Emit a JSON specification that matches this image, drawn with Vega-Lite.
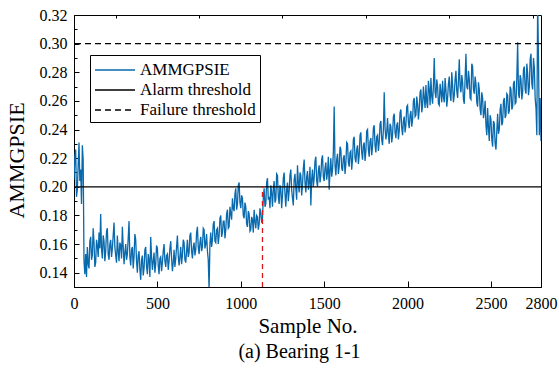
{
  "$schema": "https://vega.github.io/schema/vega-lite/v6.json",
  "width": 467,
  "height": 272,
  "autosize": "none",
  "padding": {"left": 74, "top": 15, "right": 18, "bottom": 86},
  "background": "white",
  "config": {
    "font": "Liberation Serif",
    "view": {"stroke": "black", "strokeWidth": 1},
    "axis": {"grid": false, "domainColor": "black", "tickColor": "black", "labelColor": "black", "titleColor": "black", "labelFont": "Liberation Serif", "titleFont": "Liberation Serif", "titleFontWeight": "normal"},
    "legend": {"title": null, "orient": "none", "legendX": 16, "legendY": 40, "symbolType": "M-1,0H3", "symbolSize": 400, "symbolStrokeWidth": 1.5, "labelFont": "Liberation Serif", "labelFontSize": 17, "labelColor": "black", "labelOffset": 24, "padding": 4, "rowPadding": 1, "strokeColor": "black", "fillColor": "white"}
  },
  "title": {"text": "(a) Bearing 1-1", "orient": "bottom", "font": "Liberation Serif", "fontSize": 20, "fontWeight": "normal", "color": "black", "dx": -8, "offset": 6},
  "resolve": {"axis": {"x": "independent", "y": "independent"}},
  "layer": [
    {
      "data": {"values": [
        {"s":0,"v":0.205},{"s":5,"v":0.221},{"s":10,"v":0.226},{"s":15,"v":0.193},{"s":20,"v":0.198},{"s":25,"v":0.215},{"s":30,"v":0.231},{"s":35,"v":0.204},{"s":40,"v":0.212},{"s":45,"v":0.188},{"s":50,"v":0.229},{"s":55,"v":0.219},
        {"s":60,"v":0.148},{"s":65,"v":0.139},{"s":70,"v":0.153},{"s":75,"v":0.137},{"s":80,"v":0.158},{"s":85,"v":0.146},{"s":90,"v":0.143},{"s":95,"v":0.162},{"s":100,"v":0.165},{"s":105,"v":0.149},
        {"s":110,"v":0.152},{"s":115,"v":0.171},{"s":120,"v":0.161},{"s":125,"v":0.144},{"s":130,"v":0.147},{"s":135,"v":0.163},{"s":140,"v":0.159},{"s":145,"v":0.151},{"s":150,"v":0.168},{"s":155,"v":0.157},
        {"s":160,"v":0.181},{"s":165,"v":0.156},{"s":170,"v":0.150},{"s":175,"v":0.166},{"s":180,"v":0.162},{"s":185,"v":0.148},{"s":190,"v":0.155},{"s":195,"v":0.169},{"s":200,"v":0.171},{"s":205,"v":0.153},
        {"s":210,"v":0.149},{"s":215,"v":0.160},{"s":220,"v":0.163},{"s":225,"v":0.151},{"s":230,"v":0.157},{"s":235,"v":0.166},{"s":240,"v":0.175},{"s":245,"v":0.158},{"s":250,"v":0.152},{"s":255,"v":0.147},
        {"s":260,"v":0.166},{"s":265,"v":0.155},{"s":270,"v":0.148},{"s":275,"v":0.161},{"s":280,"v":0.159},{"s":285,"v":0.150},{"s":290,"v":0.172},{"s":295,"v":0.158},{"s":300,"v":0.146},{"s":305,"v":0.154},
        {"s":310,"v":0.160},{"s":315,"v":0.149},{"s":320,"v":0.153},{"s":325,"v":0.164},{"s":330,"v":0.176},{"s":335,"v":0.151},{"s":340,"v":0.145},{"s":345,"v":0.156},{"s":350,"v":0.158},{"s":355,"v":0.143},
        {"s":360,"v":0.151},{"s":365,"v":0.167},{"s":370,"v":0.163},{"s":375,"v":0.148},{"s":380,"v":0.140},{"s":385,"v":0.152},{"s":390,"v":0.155},{"s":395,"v":0.142},{"s":400,"v":0.135},{"s":405,"v":0.149},
        {"s":410,"v":0.152},{"s":415,"v":0.138},{"s":420,"v":0.143},{"s":425,"v":0.156},{"s":430,"v":0.158},{"s":435,"v":0.144},{"s":440,"v":0.139},{"s":445,"v":0.153},{"s":450,"v":0.149},{"s":455,"v":0.137},
        {"s":460,"v":0.165},{"s":465,"v":0.151},{"s":470,"v":0.142},{"s":475,"v":0.148},{"s":480,"v":0.154},{"s":485,"v":0.140},{"s":490,"v":0.146},{"s":495,"v":0.159},{"s":500,"v":0.157},{"s":505,"v":0.145},
        {"s":510,"v":0.139},{"s":515,"v":0.150},{"s":520,"v":0.151},{"s":525,"v":0.141},{"s":530,"v":0.147},{"s":535,"v":0.155},{"s":540,"v":0.160},{"s":545,"v":0.148},{"s":550,"v":0.144},{"s":555,"v":0.152},
        {"s":560,"v":0.153},{"s":565,"v":0.142},{"s":570,"v":0.148},{"s":575,"v":0.157},{"s":580,"v":0.162},{"s":585,"v":0.150},{"s":590,"v":0.141},{"s":595,"v":0.147},{"s":600,"v":0.156},{"s":605,"v":0.144},
        {"s":610,"v":0.150},{"s":615,"v":0.158},{"s":620,"v":0.166},{"s":625,"v":0.152},{"s":630,"v":0.145},{"s":635,"v":0.151},{"s":640,"v":0.158},{"s":645,"v":0.146},{"s":650,"v":0.152},{"s":655,"v":0.163},
        {"s":660,"v":0.161},{"s":665,"v":0.149},{"s":670,"v":0.147},{"s":675,"v":0.155},{"s":680,"v":0.163},{"s":685,"v":0.151},{"s":690,"v":0.154},{"s":695,"v":0.166},{"s":700,"v":0.168},{"s":705,"v":0.155},
        {"s":710,"v":0.150},{"s":715,"v":0.158},{"s":720,"v":0.161},{"s":725,"v":0.152},{"s":730,"v":0.156},{"s":735,"v":0.168},{"s":740,"v":0.172},{"s":745,"v":0.158},{"s":750,"v":0.153},{"s":755,"v":0.161},
        {"s":760,"v":0.165},{"s":765,"v":0.155},{"s":770,"v":0.158},{"s":775,"v":0.171},{"s":780,"v":0.170},{"s":785,"v":0.157},{"s":790,"v":0.160},{"s":795,"v":0.167},{"s":800,"v":0.155},{"s":805,"v":0.149},
        {"s":810,"v":0.128},{"s":815,"v":0.160},{"s":820,"v":0.168},{"s":825,"v":0.158},{"s":830,"v":0.163},{"s":835,"v":0.174},{"s":840,"v":0.176},{"s":845,"v":0.162},{"s":850,"v":0.161},{"s":855,"v":0.170},
        {"s":860,"v":0.171},{"s":865,"v":0.160},{"s":870,"v":0.166},{"s":875,"v":0.178},{"s":880,"v":0.180},{"s":885,"v":0.165},{"s":890,"v":0.168},{"s":895,"v":0.176},{"s":900,"v":0.176},{"s":905,"v":0.164},
        {"s":910,"v":0.170},{"s":915,"v":0.181},{"s":920,"v":0.184},{"s":925,"v":0.171},{"s":930,"v":0.172},{"s":935,"v":0.186},{"s":940,"v":0.181},{"s":945,"v":0.177},{"s":950,"v":0.192},{"s":955,"v":0.185},
        {"s":960,"v":0.183},{"s":965,"v":0.195},{"s":970,"v":0.199},{"s":975,"v":0.184},{"s":980,"v":0.188},{"s":985,"v":0.201},{"s":990,"v":0.203},{"s":995,"v":0.189},{"s":1000,"v":0.185},{"s":1005,"v":0.194},
        {"s":1010,"v":0.192},{"s":1015,"v":0.180},{"s":1020,"v":0.178},{"s":1025,"v":0.189},{"s":1030,"v":0.186},{"s":1035,"v":0.174},{"s":1040,"v":0.172},{"s":1045,"v":0.183},{"s":1050,"v":0.181},{"s":1055,"v":0.169},
        {"s":1060,"v":0.170},{"s":1065,"v":0.179},{"s":1070,"v":0.177},{"s":1075,"v":0.168},{"s":1080,"v":0.184},{"s":1085,"v":0.176},{"s":1090,"v":0.171},{"s":1095,"v":0.180},{"s":1100,"v":0.179},{"s":1105,"v":0.170},
        {"s":1110,"v":0.174},{"s":1115,"v":0.185},{"s":1120,"v":0.182},{"s":1125,"v":0.175},{"s":1130,"v":0.178},{"s":1135,"v":0.192},{"s":1140,"v":0.199},{"s":1145,"v":0.186},{"s":1150,"v":0.188},{"s":1155,"v":0.203},
        {"s":1160,"v":0.206},{"s":1165,"v":0.191},{"s":1170,"v":0.193},{"s":1175,"v":0.185},{"s":1180,"v":0.201},{"s":1185,"v":0.196},{"s":1190,"v":0.186},{"s":1195,"v":0.199},{"s":1200,"v":0.204},{"s":1205,"v":0.189},
        {"s":1210,"v":0.191},{"s":1215,"v":0.209},{"s":1220,"v":0.208},{"s":1225,"v":0.193},{"s":1230,"v":0.188},{"s":1235,"v":0.201},{"s":1240,"v":0.199},{"s":1245,"v":0.185},{"s":1250,"v":0.194},{"s":1255,"v":0.206},
        {"s":1260,"v":0.210},{"s":1265,"v":0.195},{"s":1270,"v":0.186},{"s":1275,"v":0.198},{"s":1280,"v":0.203},{"s":1285,"v":0.190},{"s":1290,"v":0.197},{"s":1295,"v":0.208},{"s":1300,"v":0.212},{"s":1305,"v":0.198},
        {"s":1310,"v":0.192},{"s":1315,"v":0.187},{"s":1320,"v":0.205},{"s":1325,"v":0.209},{"s":1330,"v":0.199},{"s":1335,"v":0.191},{"s":1340,"v":0.215},{"s":1345,"v":0.203},{"s":1350,"v":0.196},{"s":1355,"v":0.210},
        {"s":1360,"v":0.208},{"s":1365,"v":0.194},{"s":1370,"v":0.201},{"s":1375,"v":0.213},{"s":1380,"v":0.219},{"s":1385,"v":0.203},{"s":1390,"v":0.196},{"s":1395,"v":0.207},{"s":1400,"v":0.211},{"s":1405,"v":0.198},
        {"s":1410,"v":0.203},{"s":1415,"v":0.214},{"s":1420,"v":0.187},{"s":1425,"v":0.205},{"s":1430,"v":0.212},{"s":1435,"v":0.200},{"s":1440,"v":0.206},{"s":1445,"v":0.218},{"s":1450,"v":0.221},{"s":1455,"v":0.204},
        {"s":1460,"v":0.200},{"s":1465,"v":0.211},{"s":1470,"v":0.215},{"s":1475,"v":0.203},{"s":1480,"v":0.208},{"s":1485,"v":0.219},{"s":1490,"v":0.222},{"s":1495,"v":0.207},{"s":1500,"v":0.204},{"s":1505,"v":0.213},
        {"s":1510,"v":0.217},{"s":1515,"v":0.205},{"s":1520,"v":0.210},{"s":1525,"v":0.221},{"s":1530,"v":0.198},{"s":1535,"v":0.211},{"s":1540,"v":0.220},{"s":1545,"v":0.207},{"s":1550,"v":0.212},{"s":1555,"v":0.224},
        {"s":1560,"v":0.256},{"s":1565,"v":0.215},{"s":1570,"v":0.208},{"s":1575,"v":0.219},{"s":1580,"v":0.223},{"s":1585,"v":0.209},{"s":1590,"v":0.214},{"s":1595,"v":0.228},{"s":1600,"v":0.226},{"s":1605,"v":0.213},
        {"s":1610,"v":0.211},{"s":1615,"v":0.220},{"s":1620,"v":0.222},{"s":1625,"v":0.209},{"s":1630,"v":0.216},{"s":1635,"v":0.231},{"s":1640,"v":0.230},{"s":1645,"v":0.217},{"s":1650,"v":0.214},{"s":1655,"v":0.224},
        {"s":1660,"v":0.225},{"s":1665,"v":0.212},{"s":1670,"v":0.219},{"s":1675,"v":0.233},{"s":1680,"v":0.235},{"s":1685,"v":0.220},{"s":1690,"v":0.217},{"s":1695,"v":0.226},{"s":1700,"v":0.229},{"s":1705,"v":0.216},
        {"s":1710,"v":0.222},{"s":1715,"v":0.236},{"s":1720,"v":0.238},{"s":1725,"v":0.224},{"s":1730,"v":0.219},{"s":1735,"v":0.229},{"s":1740,"v":0.231},{"s":1745,"v":0.218},{"s":1750,"v":0.225},{"s":1755,"v":0.239},
        {"s":1760,"v":0.240},{"s":1765,"v":0.226},{"s":1770,"v":0.221},{"s":1775,"v":0.232},{"s":1780,"v":0.234},{"s":1785,"v":0.222},{"s":1790,"v":0.228},{"s":1795,"v":0.241},{"s":1800,"v":0.243},{"s":1805,"v":0.229},
        {"s":1810,"v":0.224},{"s":1815,"v":0.235},{"s":1820,"v":0.236},{"s":1825,"v":0.225},{"s":1830,"v":0.231},{"s":1835,"v":0.244},{"s":1840,"v":0.246},{"s":1845,"v":0.233},{"s":1850,"v":0.229},{"s":1855,"v":0.240},
        {"s":1860,"v":0.266},{"s":1865,"v":0.241},{"s":1870,"v":0.233},{"s":1875,"v":0.238},{"s":1880,"v":0.248},{"s":1885,"v":0.236},{"s":1890,"v":0.230},{"s":1895,"v":0.244},{"s":1900,"v":0.242},{"s":1905,"v":0.231},
        {"s":1910,"v":0.236},{"s":1915,"v":0.249},{"s":1920,"v":0.251},{"s":1925,"v":0.238},{"s":1930,"v":0.234},{"s":1935,"v":0.243},{"s":1940,"v":0.245},{"s":1945,"v":0.233},{"s":1950,"v":0.239},{"s":1955,"v":0.252},
        {"s":1960,"v":0.254},{"s":1965,"v":0.241},{"s":1970,"v":0.236},{"s":1975,"v":0.246},{"s":1980,"v":0.249},{"s":1985,"v":0.238},{"s":1990,"v":0.243},{"s":1995,"v":0.256},{"s":2000,"v":0.257},{"s":2005,"v":0.245},
        {"s":2010,"v":0.241},{"s":2015,"v":0.250},{"s":2020,"v":0.253},{"s":2025,"v":0.242},{"s":2030,"v":0.247},{"s":2035,"v":0.260},{"s":2040,"v":0.262},{"s":2045,"v":0.249},{"s":2050,"v":0.250},{"s":2055,"v":0.263},
        {"s":2060,"v":0.258},{"s":2065,"v":0.247},{"s":2070,"v":0.254},{"s":2075,"v":0.266},{"s":2080,"v":0.268},{"s":2085,"v":0.252},{"s":2090,"v":0.257},{"s":2095,"v":0.270},{"s":2100,"v":0.262},{"s":2105,"v":0.255},
        {"s":2110,"v":0.271},{"s":2115,"v":0.259},{"s":2120,"v":0.255},{"s":2125,"v":0.274},{"s":2130,"v":0.268},{"s":2135,"v":0.257},{"s":2140,"v":0.276},{"s":2145,"v":0.263},{"s":2150,"v":0.258},{"s":2155,"v":0.271},
        {"s":2160,"v":0.290},{"s":2165,"v":0.266},{"s":2170,"v":0.262},{"s":2175,"v":0.275},{"s":2180,"v":0.270},{"s":2185,"v":0.258},{"s":2190,"v":0.257},{"s":2195,"v":0.272},{"s":2200,"v":0.266},{"s":2205,"v":0.259},
        {"s":2210,"v":0.274},{"s":2215,"v":0.263},{"s":2220,"v":0.259},{"s":2225,"v":0.276},{"s":2230,"v":0.268},{"s":2235,"v":0.256},{"s":2240,"v":0.262},{"s":2245,"v":0.272},{"s":2250,"v":0.277},{"s":2255,"v":0.264},
        {"s":2260,"v":0.260},{"s":2265,"v":0.280},{"s":2270,"v":0.271},{"s":2275,"v":0.259},{"s":2280,"v":0.264},{"s":2285,"v":0.275},{"s":2290,"v":0.281},{"s":2295,"v":0.267},{"s":2300,"v":0.262},{"s":2305,"v":0.274},
        {"s":2310,"v":0.289},{"s":2315,"v":0.270},{"s":2320,"v":0.266},{"s":2325,"v":0.278},{"s":2330,"v":0.273},{"s":2335,"v":0.261},{"s":2340,"v":0.258},{"s":2345,"v":0.276},{"s":2350,"v":0.293},{"s":2355,"v":0.270},
        {"s":2360,"v":0.268},{"s":2365,"v":0.281},{"s":2370,"v":0.275},{"s":2375,"v":0.262},{"s":2380,"v":0.261},{"s":2385,"v":0.286},{"s":2390,"v":0.284},{"s":2395,"v":0.268},{"s":2400,"v":0.265},{"s":2405,"v":0.277},
        {"s":2410,"v":0.272},{"s":2415,"v":0.259},{"s":2420,"v":0.256},{"s":2425,"v":0.273},{"s":2430,"v":0.268},{"s":2435,"v":0.254},{"s":2440,"v":0.250},{"s":2445,"v":0.266},{"s":2450,"v":0.262},{"s":2455,"v":0.248},
        {"s":2460,"v":0.252},{"s":2465,"v":0.260},{"s":2470,"v":0.243},{"s":2475,"v":0.236},{"s":2480,"v":0.255},{"s":2485,"v":0.241},{"s":2490,"v":0.232},{"s":2495,"v":0.250},{"s":2500,"v":0.247},{"s":2505,"v":0.233},
        {"s":2510,"v":0.228},{"s":2515,"v":0.246},{"s":2520,"v":0.244},{"s":2525,"v":0.230},{"s":2530,"v":0.226},{"s":2535,"v":0.239},{"s":2540,"v":0.251},{"s":2545,"v":0.237},{"s":2550,"v":0.240},{"s":2555,"v":0.254},
        {"s":2560,"v":0.258},{"s":2565,"v":0.243},{"s":2570,"v":0.245},{"s":2575,"v":0.260},{"s":2580,"v":0.262},{"s":2585,"v":0.248},{"s":2590,"v":0.250},{"s":2595,"v":0.265},{"s":2600,"v":0.264},{"s":2605,"v":0.251},
        {"s":2610,"v":0.253},{"s":2615,"v":0.270},{"s":2620,"v":0.268},{"s":2625,"v":0.254},{"s":2630,"v":0.256},{"s":2635,"v":0.272},{"s":2640,"v":0.274},{"s":2645,"v":0.258},{"s":2650,"v":0.259},{"s":2655,"v":0.276},
        {"s":2660,"v":0.301},{"s":2665,"v":0.265},{"s":2670,"v":0.262},{"s":2675,"v":0.278},{"s":2680,"v":0.275},{"s":2685,"v":0.261},{"s":2690,"v":0.266},{"s":2695,"v":0.282},{"s":2700,"v":0.284},{"s":2705,"v":0.268},
        {"s":2710,"v":0.265},{"s":2715,"v":0.286},{"s":2720,"v":0.279},{"s":2725,"v":0.264},{"s":2730,"v":0.270},{"s":2735,"v":0.289},{"s":2740,"v":0.293},{"s":2745,"v":0.272},{"s":2750,"v":0.268},{"s":2755,"v":0.290},
        {"s":2760,"v":0.283},{"s":2765,"v":0.262},{"s":2770,"v":0.255},{"s":2775,"v":0.236},{"s":2780,"v":0.330},{"s":2785,"v":0.290},{"s":2790,"v":0.236},{"s":2795,"v":0.262},{"s":2800,"v":0.232}
      ]},
      "mark": {"type": "line", "strokeWidth": 1.3, "clip": true},
      "encoding": {
        "x": {"field": "s", "type": "quantitative",
          "scale": {"domain": [0, 2800], "nice": false, "zero": false},
          "axis": {"values": [0, 500, 1000, 1500, 2000, 2500, 2800], "format": "d", "tickSize": -6, "labelPadding": 14, "labelFontSize": 16, "labelOverlap": false, "labelFlush": false, "title": "Sample No.", "titleFontSize": 21, "titlePadding": 4}},
        "y": {"field": "v", "type": "quantitative",
          "scale": {"domain": [0.13, 0.32], "nice": false, "zero": false},
          "axis": {"values": [0.14, 0.16, 0.18, 0.2, 0.22, 0.24, 0.26, 0.28, 0.3, 0.32], "format": ".2f", "tickSize": -5, "labelPadding": 12, "labelFontSize": 16, "title": "AMMGPSIE", "titleFontSize": 22, "titleX": -46, "titleY": 145}},
        "color": {"datum": "AMMGPSIE", "type": "nominal",
          "scale": {"domain": ["AMMGPSIE", "Alarm threshold", "Failure threshold"], "range": ["#0869ad", "black", "black"]}},
        "strokeDash": {"datum": "AMMGPSIE", "type": "nominal",
          "scale": {"domain": ["AMMGPSIE", "Alarm threshold", "Failure threshold"], "range": [[1, 0], [1, 0], [6, 4]]}}
      }
    },
    {
      "data": {"values": [{"y": 0.2}]},
      "mark": {"type": "rule", "strokeWidth": 1.3},
      "encoding": {
        "y": {"field": "y", "type": "quantitative", "scale": {"domain": [0.13, 0.32], "nice": false, "zero": false}, "axis": null},
        "color": {"datum": "Alarm threshold", "type": "nominal"},
        "strokeDash": {"datum": "Alarm threshold", "type": "nominal"}
      }
    },
    {
      "data": {"values": [{"y": 0.3}]},
      "mark": {"type": "rule", "strokeWidth": 1.3},
      "encoding": {
        "y": {"field": "y", "type": "quantitative", "scale": {"domain": [0.13, 0.32], "nice": false, "zero": false}, "axis": null},
        "color": {"datum": "Failure threshold", "type": "nominal"},
        "strokeDash": {"datum": "Failure threshold", "type": "nominal"}
      }
    },
    {
      "data": {"values": [{"s": 1130, "y1": 0.13, "y2": 0.2}]},
      "mark": {"type": "rule", "color": "#e0141c", "strokeDash": [5, 4], "strokeWidth": 1.3},
      "encoding": {
        "x": {"field": "s", "type": "quantitative", "scale": {"domain": [0, 2800], "nice": false, "zero": false},
          "axis": {"values": [250, 750, 1250, 1750, 2250, 2750], "tickSize": -3, "labels": false, "domain": false, "title": null}},
        "y": {"field": "y1", "type": "quantitative", "scale": {"domain": [0.13, 0.32], "nice": false, "zero": false},
          "axis": {"values": [0.13, 0.15, 0.17, 0.19, 0.21, 0.23, 0.25, 0.27, 0.29, 0.31], "tickSize": -3, "labels": false, "domain": false, "title": null, "orient": "left"}},
        "y2": {"field": "y2"}
      }
    }
  ]
}
